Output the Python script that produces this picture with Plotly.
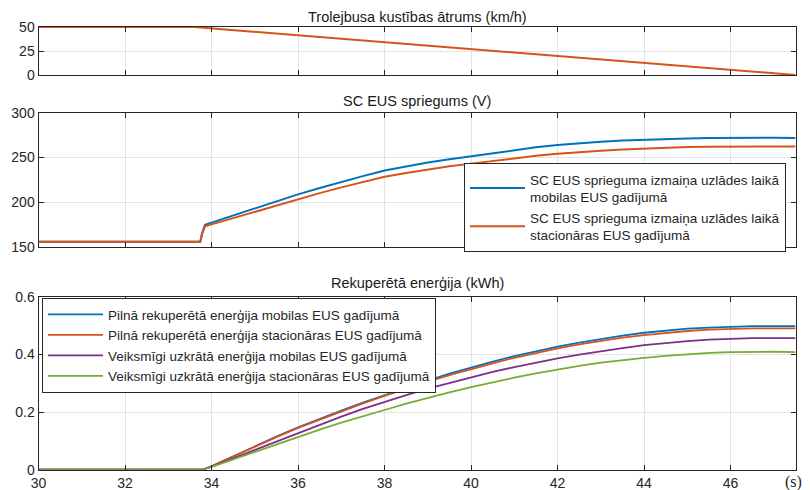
import plotly.graph_objects as go

# ---------------- data ----------------
t_speed = [30, 33.6, 47.5]
speed = [50, 50, 0]

t_v = [30, 33.74, 33.78, 33.82, 33.85,
       34, 34.5, 35, 35.5, 36, 36.5, 37, 37.5, 38, 38.5, 39, 39.5, 40, 40.5,
       41, 41.5, 42, 42.5, 43, 43.5, 44, 44.5, 45, 45.5, 46, 46.5, 47, 47.5]
v_mob = [155.5, 155.5, 165, 172, 174.6,
         177, 185, 193, 201, 208.6, 215.8, 222.6, 229, 235.2, 240, 244.3, 248, 251.5, 255,
         258.2, 261.2, 263.8, 265.8, 267.5, 268.8, 269.8, 270.6, 271.2, 271.7, 272, 272.1, 272, 271.8]
v_sta = [155.5, 155.5, 164, 170.5, 172.8,
         175, 182, 189, 196.3, 203.4, 210, 216.4, 222.5, 228.3, 232.6, 236.6, 240, 243, 246.2,
         249.2, 251.8, 254, 255.9, 257.5, 258.8, 259.9, 260.8, 261.5, 262, 262.3, 262.4, 262.3, 262.1]

t_e = [30, 33.8,
       34, 34.5, 35, 35.5, 36, 36.5, 37, 37.5, 38, 38.5, 39, 39.5, 40, 40.5,
       41, 41.5, 42, 42.5, 43, 43.5, 44, 44.5, 45, 45.5, 46, 46.5, 47, 47.5]
e_full_mob = [0, 0, 0.012, 0.047, 0.081, 0.115, 0.147, 0.177, 0.205, 0.233, 0.259, 0.285, 0.309, 0.333, 0.355,
              0.375, 0.394, 0.411, 0.427, 0.441, 0.454, 0.465, 0.475, 0.483, 0.489, 0.493, 0.496, 0.498, 0.498, 0.498]
e_full_sta = [0, 0, 0.012, 0.046, 0.080, 0.113, 0.145, 0.174, 0.202, 0.230, 0.256, 0.281, 0.305, 0.328, 0.349,
              0.369, 0.388, 0.405, 0.421, 0.435, 0.447, 0.458, 0.467, 0.475, 0.481, 0.486, 0.489, 0.490, 0.490, 0.490]
e_ok_mob = [0, 0, 0.011, 0.040, 0.069, 0.098, 0.126, 0.156, 0.184, 0.211, 0.236, 0.259, 0.281, 0.301, 0.320,
            0.339, 0.356, 0.372, 0.386, 0.399, 0.411, 0.422, 0.432, 0.440, 0.446, 0.451, 0.454, 0.456, 0.456, 0.456]
e_ok_sta = [0, 0, 0.010, 0.036, 0.062, 0.088, 0.114, 0.139, 0.163, 0.186, 0.207, 0.229, 0.249, 0.268, 0.286,
            0.303, 0.319, 0.334, 0.348, 0.360, 0.371, 0.380, 0.388, 0.395, 0.401, 0.405, 0.408, 0.409, 0.409, 0.408]

x_ticks = [30, 32, 34, 36, 38, 40, 42, 44, 46]

titles = ["Trolejbusa kustības ātrums (km/h)", "SC EUS spriegums (V)", "Rekuperētā enerģija (kWh)"]
v_names = ["SC EUS sprieguma izmaiņa uzlādes laikā<br>mobilas EUS gadījumā",
           "SC EUS sprieguma izmaiņa uzlādes laikā<br>stacionāras EUS gadījumā"]
e_names = ["Pilnā rekuperētā enerģija mobilas EUS gadījumā",
           "Pilnā rekuperētā enerģija stacionāras EUS gadījumā",
           "Veiksmīgi uzkrātā enerģija mobilas EUS gadījumā",
           "Veiksmīgi uzkrātā enerģija stacionāras EUS gadījumā"]

BLUE, ORANGE, PURPLE, GREEN = "#0072BD", "#D95319", "#7E2F8E", "#77AC30"
FONT = "Liberation Sans, Arial, sans-serif"
AX = "#262626"

# page body has an 8px margin -> figure is drawn at (8, 8) inside the 810x490 window
OFF = 8
W, H = 810 - OFF, 490 - OFF


def fx(px):
    return (px - OFF) / W


def fy(py):
    return 1 - (py - OFF) / H


fig = go.Figure()

fig.add_trace(go.Scatter(x=t_speed, y=speed, mode="lines", line=dict(color=ORANGE, width=2),
                         xaxis="x", yaxis="y", showlegend=False))
fig.add_trace(go.Scatter(x=t_v, y=v_mob, mode="lines", line=dict(color=BLUE, width=2),
                         xaxis="x2", yaxis="y2", name=v_names[0], legend="legend2"))
fig.add_trace(go.Scatter(x=t_v, y=v_sta, mode="lines", line=dict(color=ORANGE, width=2),
                         xaxis="x2", yaxis="y2", name=v_names[1], legend="legend2"))
for ys, c, n in zip([e_full_mob, e_full_sta, e_ok_mob, e_ok_sta], [BLUE, ORANGE, PURPLE, GREEN], e_names):
    fig.add_trace(go.Scatter(x=t_e, y=ys, mode="lines", line=dict(color=c, width=1.8),
                             xaxis="x3", yaxis="y3", name=n, legend="legend"))

xdom = [fx(38.5), fx(795.5)]
ydoms = [[fy(75), fy(27)], [fy(246.7), fy(112.7)], [fy(469.7), fy(296.7)]]

common_x = dict(range=[30, 47.5], tickvals=x_ticks, showgrid=True, gridcolor="#e3e3e3", gridwidth=1,
                showline=True, linecolor=AX, linewidth=1, mirror="ticks", ticks="inside", ticklen=5,
                tickcolor=AX, zeroline=False, domain=xdom,
                tickfont=dict(family=FONT, size=14, color=AX))
common_y = dict(showgrid=True, gridcolor="#e3e3e3", gridwidth=1, showline=True, linecolor=AX, linewidth=1,
                mirror="ticks", ticks="inside", ticklen=5, tickcolor=AX, zeroline=False,
                tickfont=dict(family=FONT, size=14, color=AX))

fig.update_layout(
    width=W, height=H, margin=dict(l=0, r=0, t=0, b=0, autoexpand=False),
    paper_bgcolor="white", plot_bgcolor="white",
    font=dict(family=FONT, size=13, color=AX),
    xaxis=dict(**common_x, anchor="y", showticklabels=False),
    xaxis2=dict(**common_x, anchor="y2", showticklabels=False, matches="x"),
    xaxis3=dict(**common_x, anchor="y3", showticklabels=True, matches="x"),
    yaxis=dict(**common_y, domain=ydoms[0], anchor="x", range=[0, 50], tickvals=[0, 25, 50]),
    yaxis2=dict(**common_y, domain=ydoms[1], anchor="x2", range=[150, 300], tickvals=[150, 200, 250, 300]),
    yaxis3=dict(**common_y, domain=ydoms[2], anchor="x3", range=[0, 0.6], tickvals=[0, 0.2, 0.4, 0.6],
                ticktext=["0", "0.2", "0.4", "0.6"]),
    legend=dict(x=fx(42), y=fy(298), xanchor="left", yanchor="top", bgcolor="white",
                bordercolor=AX, borderwidth=1, font=dict(family=FONT, size=13.5, color=AX),
                tracegroupgap=0, itemwidth=55),
    legend2=dict(x=fx(464), y=fy(163), xanchor="left", yanchor="top", bgcolor="white",
                 bordercolor=AX, borderwidth=1, font=dict(family=FONT, size=13.5, color=AX),
                 tracegroupgap=0, itemwidth=55),
)

title_y = [17, 101, 283]
for txt, yy in zip(titles, title_y):
    fig.add_annotation(text=txt, x=(xdom[0] + xdom[1]) / 2, y=fy(yy), xref="paper", yref="paper",
                       showarrow=False, font=dict(family=FONT, size=14.5, color="#1a1a1a"),
                       xanchor="center", yanchor="middle", borderpad=0)

fig.add_annotation(text="(s)", x=fx(803), y=fy(482), xref="paper", yref="paper", showarrow=False,
                   font=dict(family="Liberation Serif, Times New Roman, serif", size=16, color=AX),
                   xanchor="right", yanchor="middle", borderpad=0)

fig.write_html("out.html")
